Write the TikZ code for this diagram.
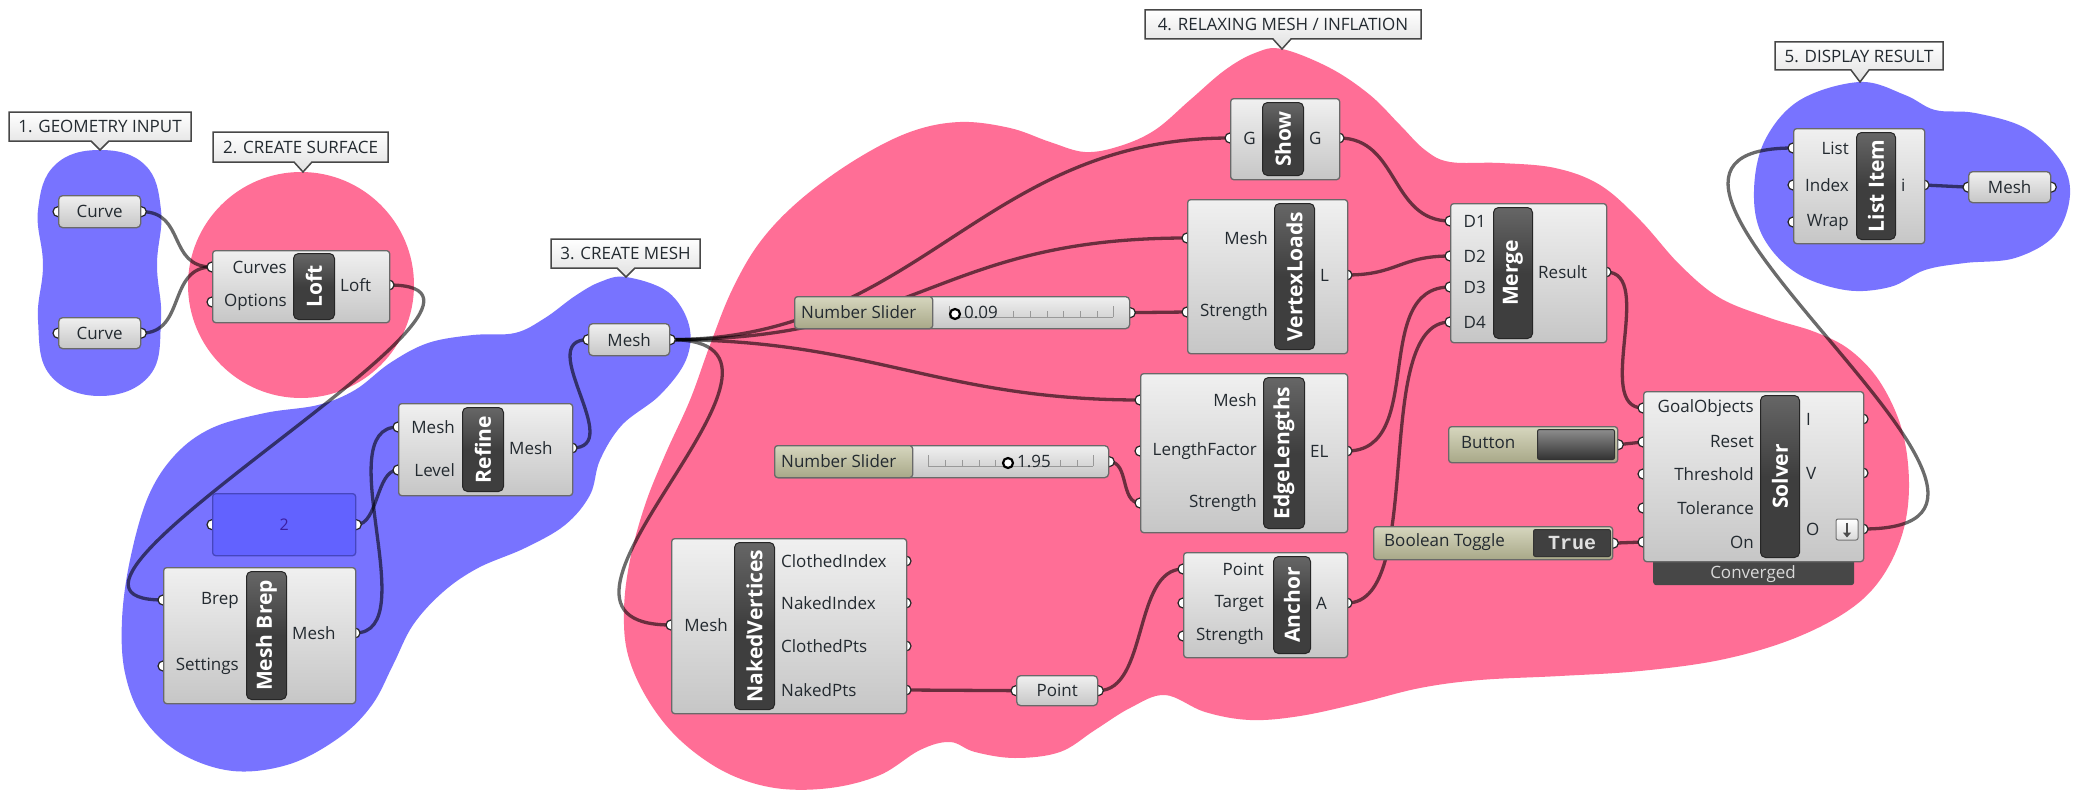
\documentclass[tikz,border=0pt]{standalone}
\usepackage{fontspec}
\setmainfont{Open Sans}
\newfontfamily\togglefont{Liberation Mono}
\usetikzlibrary{shadings,arrows.meta}

\pgfdeclarelayer{bg}
\pgfdeclarelayer{wires}
\pgfdeclarelayer{ports}
\pgfsetlayers{bg,wires,ports,main}

\definecolor{grpPink}{RGB}{255,110,150}
\definecolor{grpBlue}{RGB}{120,115,255}
\definecolor{panelBlue}{RGB}{98,98,255}
\definecolor{panelEdge}{RGB}{70,70,190}
\definecolor{panelText}{RGB}{60,30,160}
\definecolor{oliveTop}{RGB}{214,214,190}
\definecolor{oliveBot}{RGB}{168,168,136}
\definecolor{boxTop}{RGB}{240,240,240}
\definecolor{boxBot}{RGB}{198,198,198}
\definecolor{boxEdge}{RGB}{105,105,105}
\definecolor{stripFill}{RGB}{62,62,62}
\definecolor{txt}{RGB}{35,42,48}

\tikzset{
  comp/.style={draw=boxEdge, line width=1.3, rounded corners=3, top color=boxTop, bottom color=boxBot, inner sep=0},
  param/.style={comp, rounded corners=4},
  strip/.style={draw=black!85, line width=1, rounded corners=5, top color=black!60, bottom color=stripFill, middle color=stripFill, inner sep=0},
  striptext/.style={text=white, font=\fontsize{21}{21}\selectfont\bfseries, inner sep=0},
  plabel/.style={text=txt, font=\fontsize{17}{17}\selectfont, inner sep=0},
  port/.style={circle, fill=white, draw=black!85, line width=1.2, minimum size=10, inner sep=0},
  olivebox/.style={draw=boxEdge, line width=1.3, rounded corners=3, top color=oliveTop, bottom color=oliveBot, inner sep=0},
  btnface/.style={draw=black!80, line width=1, rounded corners=2, top color=black!45, bottom color=black!80, inner sep=0},
  togface/.style={draw=black!80, line width=1, rounded corners=2, fill=black!75, inner sep=0},
  panel/.style={draw=panelEdge, line width=1.3, rounded corners=3, fill=panelBlue, inner sep=0},
  convbar/.style={fill=black!72, rounded corners=3, inner sep=0},
  iconbox/.style={draw=black!55, line width=1, rounded corners=2, top color=white, bottom color=black!15, inner sep=0},
  knob/.style={circle, fill=white, draw=black, line width=2.2, minimum size=10, inner sep=0},
  track/.style={draw=black!40, line width=0.8},
  wire/.style={draw=black, draw opacity=0.58, line width=3.3},
  callout/.style={draw=black!72, line width=1.5, top color=white, bottom color=black!12},
  calltext/.style={text=txt, font=\fontsize{17}{17}\selectfont, inner sep=0},
  pinkgroup/.style={fill=grpPink},
  bluegroup/.style={fill=grpBlue}
}

% component body
\newcommand\ghBox[5]{%
  \node[comp, minimum width={#4-#2}, minimum height={#5-#3}, anchor=north west] (#1) at (#2,#3) {};}
% dark title strip with vertical name
\newcommand\ghStrip[6]{%
  \node[strip, minimum width={#4-#2}, minimum height={#5-#3}, anchor=north west] (#1) at (#2,#3) {};
  \node[striptext, rotate=90] (#1-t) at (#1.center) {#6};}
% input grip with its label (label right aligned)
\newcommand\ghIn[5]{%
  \begin{pgfonlayer}{ports}\node[port] (#1) at (#2,#3) {};\end{pgfonlayer}
  \node[plabel, anchor=east] (#1-t) at (#4,#3) {#5};}
% output grip with its label (label left aligned)
\newcommand\ghOut[5]{%
  \begin{pgfonlayer}{ports}\node[port] (#1) at (#2,#3) {};\end{pgfonlayer}
  \node[plabel, anchor=west] (#1-t) at (#4,#3) {#5};}
% floating parameter
\newcommand\ghParam[6]{%
  \node[param, minimum width={#4-#2}, minimum height={#5-#3}, anchor=north west] (#1) at (#2,#3) {};
  \node[plabel] (#1-t) at (#1.center) {#6};
  \begin{pgfonlayer}{ports}
    \node[port] (#1-i) at (#1.west) {};
    \node[port] (#1-o) at (#1.east) {};
  \end{pgfonlayer}}
% group title balloon
\newcommand\ghGroupLabel[8]{%
  \draw[callout] (#2,#3) -- (#4,#3) -- (#4,#5) -- ({#6+9},#5) -- (#6,#7) -- ({#6-9},#5) -- (#2,#5) -- cycle;
  \node[calltext] (#1) at ({(#2+#4)/2},{(#3+#5)/2}) {#8};}

\begin{document}
\begin{tikzpicture}[x=1pt, y=-1pt]
\useasboundingbox (0,0) rectangle (2083,792);

% ---------- groups ----------
\begin{pgfonlayer}{bg}
\fill[white] (0,0) rectangle (2083,792);
% 1. geometry input
\fill[bluegroup] plot[smooth cycle, tension=0.7] coordinates {
  (100,150) (145,165) (161,210) (157,265) (161,320) (150,375) (100,396)
  (50,375) (38,320) (43,265) (38,210) (55,165)};
% 2. create surface
\fill[pinkgroup] (301,285) circle[radius=113];
% 3. create mesh
\fill[bluegroup] plot[smooth cycle, tension=0.6] coordinates {
  (626,277) (668,292) (689,325) (686,360) (660,395) (622,425) (600,460)
  (590,495) (565,525) (525,548) (478,568) (443,592) (413,625) (393,665)
  (372,705) (340,737) (290,764) (233,771) (180,753) (143,718) (125,673)
  (122,620) (130,560) (148,497) (175,455) (212,428) (265,413) (318,405)
  (355,390) (390,363) (428,343) (473,335) (515,333) (545,318) (575,296) (600,282)};
% 4. relaxing mesh / inflation
\fill[pinkgroup] plot[smooth cycle, tension=0.6] coordinates {
  (1282,49) (1330,68) (1370,95) (1400,125) (1425,150) (1450,162) (1500,163)
  (1555,168) (1600,185) (1640,220) (1680,265) (1720,298) (1770,318) (1815,332)
  (1850,350) (1880,382) (1902,430) (1909,485) (1902,535) (1880,580) (1846,612)
  (1790,640) (1720,660) (1640,671) (1560,676) (1480,680) (1420,688) (1360,703)
  (1300,716) (1250,720) (1205,712) (1165,695) (1130,708) (1095,730) (1060,752)
  (1015,758) (975,752) (950,742) (920,750) (880,775) (830,788) (775,788)
  (725,772) (680,740) (648,700) (628,655) (624,610) (630,560) (645,505)
  (665,455) (690,400) (710,345) (732,290) (760,242) (800,200) (855,160)
  (910,132) (960,122) (1010,128) (1050,142) (1085,152) (1120,146) (1155,130)
  (1190,100) (1225,70) (1255,53)};
% 5. display result
\fill[bluegroup] plot[smooth cycle, tension=0.6] coordinates {
  (1860,82) (1905,95) (1935,110) (1975,113) (2025,128) (2060,160) (2070,195)
  (2055,235) (2015,258) (1965,263) (1925,270) (1890,287) (1845,290) (1795,272)
  (1762,235) (1754,190) (1765,140) (1800,100)};
\end{pgfonlayer}

% ---------- group titles ----------
\ghGroupLabel{lbl1}{9}{112}{191}{141}{100}{150}{1. GEOMETRY INPUT}
\ghGroupLabel{lbl2}{213}{132}{388}{162}{303}{172}{2. CREATE SURFACE}
\ghGroupLabel{lbl3}{551}{239}{700}{268}{626}{277}{3. CREATE MESH}
\ghGroupLabel{lbl4}{1145}{10}{1421}{39}{1282}{49}{4. RELAXING MESH / INFLATION}
\ghGroupLabel{lbl5}{1775}{42}{1943}{70}{1860}{82}{5. DISPLAY RESULT}

% ---------- 1. geometry input ----------
\ghParam{crvA}{58}{195}{140}{227}{Curve}
\ghParam{crvB}{58}{317}{140}{348}{Curve}

% ---------- 2. loft ----------
\ghBox{loft}{212}{250}{389}{322}
\ghStrip{loft-s}{293}{253}{334}{319}{Loft}
\ghIn{loft-i1}{212}{267}{287}{Curves}
\ghIn{loft-i2}{212}{302}{287}{Options}
\ghOut{loft-o}{389}{285}{340}{Loft}

% ---------- 3. create mesh ----------
\ghParam{meshP}{588}{323}{669}{355}{Mesh}

\ghBox{ref}{398}{403}{572}{495}
\ghStrip{ref-s}{462}{407}{503}{491}{Refine}
\ghIn{ref-i1}{398}{427}{455}{Mesh}
\ghIn{ref-i2}{398}{470}{455}{Level}
\ghOut{ref-o}{572}{448}{509}{Mesh}

\node[panel, minimum width=143, minimum height=62, anchor=north west] (num) at (212,493) {};
\node[text=panelText, font=\fontsize{16}{16}\selectfont, inner sep=0] (num-t) at (num.center) {2};
\begin{pgfonlayer}{ports}
  \node[port] (num-i) at (num.west) {};
  \node[port] (num-o) at (num.east) {};
\end{pgfonlayer}

\ghBox{mb}{163}{567}{355}{703}
\ghStrip{mb-s}{246}{571}{286}{699}{Mesh Brep}
\ghIn{mb-i1}{163}{600}{239}{Brep}
\ghIn{mb-i2}{163}{666}{239}{Settings}
\ghOut{mb-o}{355}{633}{292}{Mesh}

% ---------- 4. relaxation goals ----------
\ghBox{show}{1230}{98}{1339}{179}
\ghStrip{show-s}{1262}{102}{1303}{175}{Show}
\ghIn{show-i}{1230}{138}{1256}{G}
\ghOut{show-o}{1339}{138}{1309}{G}

\ghBox{vl}{1187}{199}{1347}{353}
\ghStrip{vl-s}{1274}{203}{1314}{349}{VertexLoads}
\ghIn{vl-i1}{1187}{238}{1268}{Mesh}
\ghIn{vl-i2}{1187}{312}{1268}{Strength}
\ghOut{vl-o}{1347}{275}{1320}{L}

% slider 0.09
\node[param, minimum width=335, minimum height=32, anchor=north west] (sl1) at (794,296) {};
\node[olivebox, minimum width=138, minimum height=32, anchor=north west] (sl1-l) at (794,296) {};
\node[plabel, anchor=west] (sl1-t) at (801,312) {Number Slider};
\draw[track] (949,317) -- (1113,317);
\foreach \tx in {949,1113} \draw[track] (\tx,317) -- (\tx,306);
\foreach \tx in {1013,1030,1047,1063,1080,1097} \draw[track] (\tx,317) -- (\tx,311);
\node[knob] (sl1-k) at (955,314) {};
\node[plabel, anchor=west] (sl1-v) at (964,312) {0.09};
\begin{pgfonlayer}{ports}\node[port] (sl1-o) at (sl1.east) {};\end{pgfonlayer}

\ghBox{el}{1140}{373}{1347}{532}
\ghStrip{el-s}{1263}{377}{1304}{528}{EdgeLengths}
\ghIn{el-i1}{1140}{400}{1257}{Mesh}
\ghIn{el-i2}{1140}{451}{1257}{LengthFactor}
\ghIn{el-i3}{1140}{503}{1257}{Strength}
\ghOut{el-o}{1347}{451}{1310}{EL}

% slider 1.95
\node[param, minimum width=334, minimum height=32, anchor=north west] (sl2) at (774,445) {};
\node[olivebox, minimum width=138, minimum height=32, anchor=north west] (sl2-l) at (774,445) {};
\node[plabel, anchor=west] (sl2-t) at (781,461) {Number Slider};
\draw[track] (928,466) -- (1093,466);
\foreach \tx in {928,1093} \draw[track] (\tx,466) -- (\tx,455);
\foreach \tx in {945,962,979,995,1060,1077} \draw[track] (\tx,466) -- (\tx,460);
\node[knob] (sl2-k) at (1008,463) {};
\node[plabel, anchor=west] (sl2-v) at (1017,461) {1.95};
\begin{pgfonlayer}{ports}\node[port] (sl2-o) at (sl2.east) {};\end{pgfonlayer}

\ghBox{nv}{671}{538}{906}{713}
\ghStrip{nv-s}{734}{542}{774}{709}{NakedVertices}
\ghIn{nv-i}{671}{625}{728}{Mesh}
\ghOut{nv-o1}{906}{561}{781}{ClothedIndex}
\ghOut{nv-o2}{906}{603}{781}{NakedIndex}
\ghOut{nv-o3}{906}{646}{781}{ClothedPts}
\ghOut{nv-o4}{906}{690}{781}{NakedPts}

\ghParam{pt}{1016}{675}{1097}{705}{Point}

\ghBox{anc}{1183}{552}{1347}{657}
\ghStrip{anc-s}{1273}{556}{1310}{653}{Anchor}
\ghIn{anc-i1}{1183}{569}{1264}{Point}
\ghIn{anc-i2}{1183}{603}{1264}{Target}
\ghIn{anc-i3}{1183}{636}{1264}{Strength}
\ghOut{anc-o}{1347}{603}{1316}{A}

\ghBox{mrg}{1450}{203}{1606}{342}
\ghStrip{mrg-s}{1493}{207}{1532}{338}{Merge}
\ghIn{mrg-i1}{1450}{221}{1486}{D1}
\ghIn{mrg-i2}{1450}{256}{1486}{D2}
\ghIn{mrg-i3}{1450}{287}{1486}{D3}
\ghIn{mrg-i4}{1450}{322}{1486}{D4}
\ghOut{mrg-o}{1606}{272}{1538}{Result}

% button
\node[olivebox, minimum width=169, minimum height=36, anchor=north west] (btn) at (1448,426) {};
\node[plabel, anchor=west] (btn-t) at (1461,443) {Button};
\node[btnface, minimum width=77, minimum height=30, anchor=north west] (btn-k) at (1537,429) {};
\begin{pgfonlayer}{ports}\node[port] (btn-o) at (btn.east) {};\end{pgfonlayer}

% boolean toggle
\node[olivebox, minimum width=239, minimum height=33, anchor=north west] (tog) at (1373,526) {};
\node[plabel, anchor=west] (tog-t) at (1384,542) {Boolean Toggle};
\node[togface, minimum width=77, minimum height=27, anchor=north west] (tog-k) at (1533,529) {};
\node[text=white!88!black, font=\togglefont\bfseries\fontsize{20}{20}\selectfont, inner sep=0] (tog-v) at (tog-k.center) {True};
\begin{pgfonlayer}{ports}\node[port] (tog-o) at (tog.east) {};\end{pgfonlayer}

% solver
\node[convbar, minimum width=201, minimum height=26, anchor=north west] (conv) at (1653,559) {};
\node[text=white!85!black, font=\fontsize{17}{17}\selectfont, inner sep=0] (conv-t) at (1753,574) {Converged};
\ghBox{sol}{1643}{391}{1863}{561}
\ghStrip{sol-s}{1760}{395}{1799}{557}{Solver}
\ghIn{sol-i1}{1643}{408}{1754}{GoalObjects}
\ghIn{sol-i2}{1643}{442}{1754}{Reset}
\ghIn{sol-i3}{1643}{474}{1754}{Threshold}
\ghIn{sol-i4}{1643}{508}{1754}{Tolerance}
\ghIn{sol-i5}{1643}{542}{1754}{On}
\ghOut{sol-o1}{1863}{419}{1806}{I}
\ghOut{sol-o2}{1863}{473}{1806}{V}
\ghOut{sol-o3}{1863}{529}{1806}{O}
\node[iconbox, minimum width=22, minimum height=21] (sol-ic) at (1847,529.5) {};
\draw[line width=1.6, black!70, -{Triangle[length=5pt,width=8pt]}] ([yshift=-4pt]sol-ic.north) -- ([yshift=3pt]sol-ic.south);

% ---------- 5. display result ----------
\ghBox{li}{1793}{128}{1924}{243}
\ghStrip{li-s}{1856}{132}{1895}{239}{List Item}
\ghIn{li-i1}{1793}{148}{1849}{List}
\ghIn{li-i2}{1793}{185}{1849}{Index}
\ghIn{li-i3}{1793}{222}{1849}{Wrap}
\ghOut{li-o}{1924}{185}{1901}{i}

\ghParam{meshO}{1968}{171}{2050}{202}{Mesh}

% ---------- wires ----------
\begin{pgfonlayer}{wires}
\draw[wire] (crvA-o.center) .. controls +(45,0) and +(-45,0) .. (loft-i1.center);
\draw[wire] (crvB-o.center) .. controls +(45,0) and +(-45,0) .. (loft-i1.center);
\draw[wire] (loft-o.center) .. controls +(180,0) and +(-180,0) .. (mb-i1.center);
\draw[wire] (mb-o.center) .. controls +(70,0) and +(-70,0) .. (ref-i1.center);
\draw[wire] (num-o.center) .. controls +(22,0) and +(-22,0) .. (ref-i2.center);
\draw[wire] (ref-o.center) .. controls +(55,0) and +(-55,0) .. (meshP-i.center);
\draw[wire] (meshP-o.center) .. controls +(250,0) and +(-250,0) .. (show-i.center);
\draw[wire] (meshP-o.center) .. controls +(250,0) and +(-250,0) .. (vl-i1.center);
\draw[wire] (meshP-o.center) .. controls +(200,0) and +(-200,0) .. (el-i1.center);
\draw[wire] (meshP-o.center) .. controls +(180,0) and +(-180,0) .. (nv-i.center);
\draw[wire] (sl1-o.center) -- (vl-i2.center);
\draw[wire] (sl2-o.center) .. controls +(20,0) and +(-20,0) .. (el-i3.center);
\draw[wire] (show-o.center) .. controls +(60,0) and +(-60,0) .. (mrg-i1.center);
\draw[wire] (vl-o.center) .. controls +(50,0) and +(-50,0) .. (mrg-i2.center);
\draw[wire] (el-o.center) .. controls +(80,0) and +(-80,0) .. (mrg-i3.center);
\draw[wire] (anc-o.center) .. controls +(80,0) and +(-80,0) .. (mrg-i4.center);
\draw[wire] (nv-o4.center) -- (pt-i.center);
\draw[wire] (pt-o.center) .. controls +(50,0) and +(-50,0) .. (anc-i1.center);
\draw[wire] (mrg-o.center) .. controls +(50,0) and +(-50,0) .. (sol-i1.center);
\draw[wire] (btn-o.center) -- (sol-i2.center);
\draw[wire] (tog-o.center) -- (sol-i5.center);
\draw[wire] (sol-o3.center) .. controls +(250,0) and +(-250,0) .. (li-i1.center);
\draw[wire] (li-o.center) -- (meshO-i.center);
\end{pgfonlayer}
\end{tikzpicture}
\end{document}
